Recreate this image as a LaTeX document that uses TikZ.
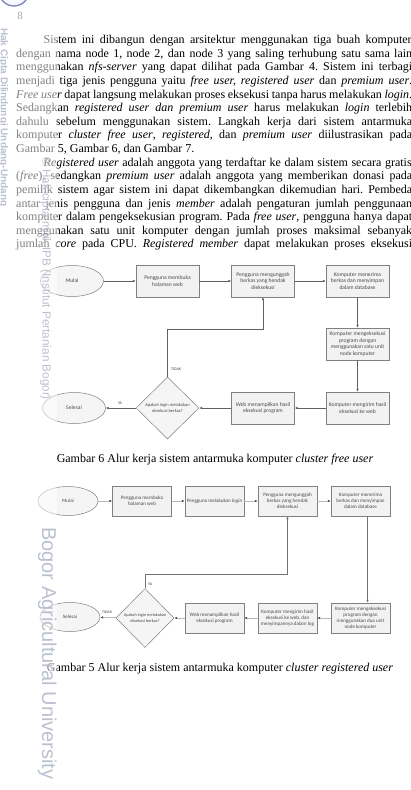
\documentclass[tikz,border=0pt]{standalone}
\usepackage{fontspec}
\setmainfont{Liberation Serif}
\newfontfamily\diagfont{Carlito}
\newfontfamily\wmfont{Liberation Sans}
\usetikzlibrary{shapes.geometric,arrows.meta,shadows,calc}
\definecolor{wmcol}{HTML}{B9C0D0}
\frenchspacing
\tikzset{
 bodyline/.style={anchor=base west, inner sep=0pt, font=\fontsize{12}{13.6}\selectfont},
 captxt/.style={anchor=base, inner sep=0pt, font=\fontsize{12}{13.6}\selectfont},
 boxA/.style={draw=black!50, fill=black!5, line width=0.5pt, minimum width=63pt, minimum height=32pt,
   inner sep=0pt, align=center, text=black!70, font=\diagfont\fontsize{5.6}{6.6}\selectfont,
   drop shadow={opacity=0.18, shadow xshift=0.8pt, shadow yshift=-0.8pt}},
 boxB/.style={boxA, minimum width=59pt, minimum height=30pt, font=\diagfont\fontsize{5.1}{6.1}\selectfont},
 ellA/.style={ellipse, draw=black!50, fill=black!4, line width=0.5pt, minimum width=63pt, minimum height=31pt,
   inner sep=0pt, text=black!70, font=\diagfont\fontsize{5.6}{6.6}\selectfont},
 ellB/.style={ellA, minimum width=60pt, minimum height=29pt, font=\diagfont\fontsize{5.1}{6.1}\selectfont},
 diaA/.style={diamond, aspect=1, draw=black!50, fill=black!4, line width=0.5pt, minimum width=63pt, minimum height=62pt,
   inner sep=0pt, align=center, text=black!70, font=\diagfont\fontsize{4.5}{5.4}\selectfont},
 diaB/.style={diaA, minimum width=58pt, minimum height=59pt, font=\diagfont\fontsize{4.3}{5.2}\selectfont},
 arrA/.style={draw=black!62, line width=0.5pt, -{Latex[length=2.8pt,width=2.4pt]}},
 arrB/.style={draw=black!28, line width=0.8pt, -{Latex[length=2.8pt,width=2.4pt,color=black!70]}},
 arrC/.style={draw=black!55, line width=0.6pt, -{Latex[length=2.8pt,width=2.4pt]}},
 lbl/.style={inner sep=0pt, text=black!75, font=\diagfont\fontsize{4}{4.5}\selectfont},
 wm/.style={rotate=-90, anchor=base west, inner sep=0pt, text=wmcol, font=\wmfont},
}
\begin{document}
\begin{tikzpicture}[x=1pt,y=-1pt]
\useasboundingbox (0,0) rectangle (411,790);
\fill[white] (0,0) rectangle (411,790);

% logo fragment
\begin{scope}
\clip (0,0) rectangle (40,12);
\draw[blue!45!black, line width=1.3pt, fill=blue!6] (14,-9) circle (15);
\end{scope}

% page number
\node[anchor=base, inner sep=0pt, text=black!70, font=\fontsize{11}{12}\selectfont] (pg) at (20,19) {8};

% body text
\node[bodyline] (t1) at (43.5,43.5) {\makebox[368pt][s]{Sistem ini dibangun dengan arsitektur menggunakan tiga buah komputer}};
\node[bodyline] (t2) at (16,57.1) {\makebox[396pt][s]{dengan nama node 1, node 2, dan node 3 yang saling terhubung satu sama lain}};
\node[bodyline] (t3) at (16,70.8) {\makebox[396pt][s]{menggunakan \textit{nfs-server} yang dapat dilihat pada Gambar 4. Sistem ini terbagi}};
\node[bodyline] (t4) at (16,84.4) {\makebox[396pt][s]{menjadi tiga jenis pengguna yaitu \textit{free user, registered user} dan \textit{premium user}.}};
\node[bodyline] (t5) at (16,98.0) {\makebox[396pt][s]{\textit{Free user} dapat langsung melakukan proses eksekusi tanpa harus melakukan \textit{login}.}};
\node[bodyline] (t6) at (16,111.7) {\makebox[396pt][s]{Sedangkan \textit{registered user dan premium user} harus melakukan \textit{login} terlebih}};
\node[bodyline] (t7) at (16,125.3) {\makebox[396pt][s]{dahulu sebelum menggunakan sistem. Langkah kerja dari sistem antarmuka}};
\node[bodyline] (t8) at (16,138.9) {\makebox[396pt][s]{komputer \textit{cluster free user}, \textit{registered}, dan \textit{premium user} diilustrasikan pada}};
\node[bodyline] (t9) at (16,152.5) {Gambar 5, Gambar 6, dan Gambar 7.};
\node[bodyline] (t10) at (43.5,166.2) {\makebox[368pt][s]{\textit{Registered user} adalah anggota yang terdaftar ke dalam sistem secara gratis}};
\node[bodyline] (t11) at (16,179.8) {\makebox[396pt][s]{(\textit{free}), sedangkan \textit{premium user} adalah anggota yang memberikan donasi pada}};
\node[bodyline] (t12) at (16,193.4) {\makebox[396pt][s]{pemilik sistem agar sistem ini dapat dikembangkan dikemudian hari. Pembeda}};
\node[bodyline] (t13) at (16,207.1) {\makebox[396pt][s]{antar jenis pengguna dan jenis \textit{member} adalah pengaturan jumlah penggunaan}};
\node[bodyline] (t14) at (16,220.7) {\makebox[396pt][s]{komputer dalam pengeksekusian program. Pada \textit{free user}, pengguna hanya dapat}};
\node[bodyline] (t15) at (16,234.3) {\makebox[396pt][s]{menggunakan satu unit komputer dengan jumlah proses maksimal sebanyak}};
\node[bodyline] (t16) at (16,247.9) {\makebox[396pt][s]{jumlah \textit{core} pada CPU. \textit{Registered member} dapat melakukan proses eksekusi}};

% ---------- Gambar 6 ----------
\node[ellA] (m1) at (72,281) {Mulai};
\node[boxA] (a1) at (167.5,281) {Pengguna membuka\\halaman web};
\node[boxA] (a2) at (263,281) {Pengguna mengunggah\\berkas yang hendak\\dieksekusi};
\node[boxA] (a3) at (357.5,281) {Komputer menerima\\berkas dan menyimpan\\dalam database};
\node[boxA] (a4) at (357.5,344) {Komputer mengeksekusi\\program dengan\\menggunakan satu unit\\node komputer};
\node[boxA] (a5) at (357.5,408) {Komputer mengirim hasil\\eksekusi ke web};
\node[boxA] (a6) at (263,408) {Web menampilkan hasil\\eksekusi program};
\node[diaA] (d1) at (167.5,408) {Apakah ingin melakukan\\eksekusi berkas?};
\node[ellA] (s1) at (74,408) {Selesai};

\draw[arrA] (m1) -- (a1);
\draw[arrA] (a1) -- (a2);
\draw[arrA] (a2) -- (a3);
\draw[arrA] (a3) -- (a4);
\draw[arrA] (a4) -- (a5);
\draw[arrA] (a5) -- (a6);
\draw[arrA] (a6) -- (d1);
\draw[arrA] (d1) -- (s1);
\path (d1.north) ++(0,-48) coordinate (k1);
\draw[arrA] (d1.north) -- (k1) -| (a2.south);
\node[lbl, anchor=west] (lt1) at (171,369) {TIDAK};
\node[lbl] (ly1) at (120,403) {YA};

\node[captxt] (c6) at (215,462) {Gambar 6 Alur kerja sistem antarmuka komputer \textit{cluster free user}};

% ---------- Gambar 5 ----------
\node[ellB] (m2) at (68,501) {Mulai};
\node[boxB] (b1) at (142,501) {Pengguna membuka\\halaman web};
\node[boxB] (b2) at (214.5,501) {Pengguna melakukan \textit{login}};
\node[boxB] (b3) at (287.5,501) {Pengguna mengunggah\\berkas yang hendak\\dieksekusi};
\node[boxB] (b4) at (360.5,501) {Komputer menerima\\berkas dan menyimpan\\dalam database};
\node[boxB] (b5) at (360.5,618) {Komputer mengeksekusi\\program dengan\\menggunakan dua unit\\node komputer};
\node[boxB] (b6) at (287.5,618) {Komputer mengirim hasil\\eksekusi ke web, dan\\menyimpannya dalam log};
\node[boxB] (b7) at (214.5,618) {Web menampilkan hasil\\eksekusi program};
\node[diaB] (d2) at (145,618) {Apakah ingin melakukan\\eksekusi berkas?};
\node[ellB] (s2) at (70,617) {Selesai};

\draw[arrB] (m2) -- (b1);
\draw[arrB] (b1) -- (b2);
\draw[arrB] (b2) -- (b3);
\draw[arrB] (b3) -- (b4);
\draw[arrC] ($(b4.south)+(7,0)$) coordinate (v1) -- ($(b5.north)+(7,0)$) coordinate (v2);
\draw[arrB] (b5) -- (b6);
\draw[arrB] (b6) -- (b7);
\draw[arrB] (b7) -- (d2);
\draw[arrB] (d2) -- (s2);
\path (d2.north) ++(0,-14) coordinate (k2);
\draw[arrC] (d2.north) -- (k2) -| (b3.south);
\node[lbl, anchor=west] (ly2) at (148,584) {YA};
\node[lbl] (lt2) at (107,612) {TIDAK};

\node[captxt] (c5) at (220,671) {Gambar 5 Alur kerja sistem antarmuka komputer \textit{cluster registered user}};

% ---------- watermark ----------
\fill[white, opacity=0.5] (0,0) rectangle (57,790);
\node[wm, font=\wmfont\bfseries\fontsize{10}{11}\selectfont] (w1) at (1,28) {Hak Cipta Dilindungi Undang-Undang};
\node[wm, font=\wmfont\fontsize{11.7}{12}\selectfont] (w2) at (42.5,157) {\textcopyright{} Hak cipta milik IPB (Institut Pertanian Bogor)};
\node[wm, font=\wmfont\fontsize{20}{22}\selectfont] (w3) at (42,527) {Bogor Agricultural University};
\end{tikzpicture}
\end{document}
